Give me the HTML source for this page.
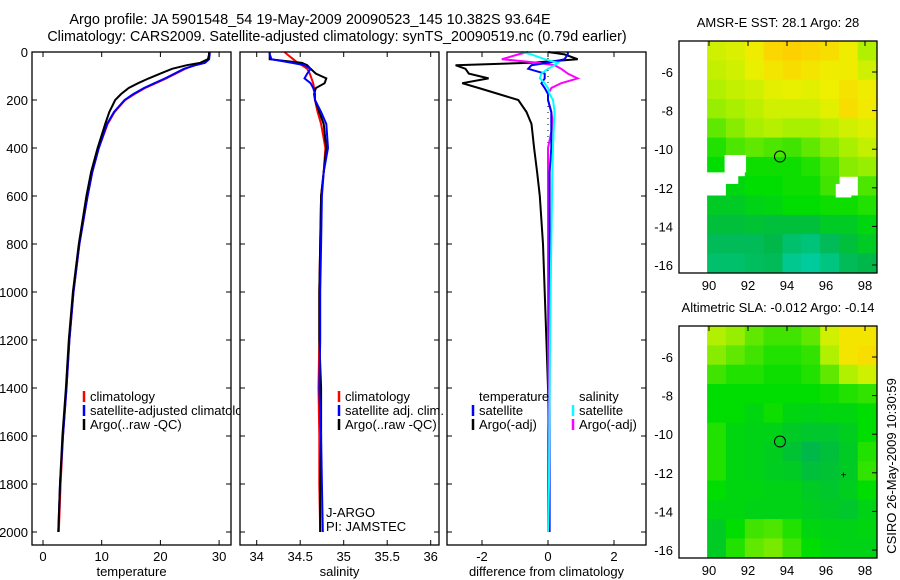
<!DOCTYPE html>
<html><head><meta charset="utf-8"><style>
body{margin:0;background:#fff}
svg{display:block;font-family:"Liberation Sans",sans-serif}
text{fill:#000}
</style></head><body>
<svg id="c" width="900" height="580" viewBox="0 0 900 580">
<text x="310" y="24" text-anchor="middle" font-size="14.5">Argo profile: JA 5901548_54 19-May-2009 20090523_145 10.382S 93.64E</text>
<text x="337" y="41" text-anchor="middle" font-size="14.3">Climatology: CARS2009. Satellite-adjusted climatology: synTS_20090519.nc (0.79d earlier)</text>
</svg>
<script>
// ---- data ----
const depthLevels=[0,10,30,45,55,70,90,110,130,150,175,200,250,300,400,500,600,800,1000,1200,1400,1600,1800,2000];
const climTemp=[28.3,28.3,28.2,27.5,25.8,24.2,22.6,21.0,19.2,17.4,15.6,14.0,12.2,11.0,9.5,8.4,7.6,6.2,5.2,4.5,4.0,3.4,3.0,2.7];
const satTemp=[28.4,28.4,28.3,27.6,26.0,24.0,22.4,20.8,19.0,17.2,15.4,13.9,12.1,10.9,9.5,8.4,7.6,6.2,5.2,4.5,4.0,3.4,2.9,2.6];
const argoTemp=[28.3,28.3,28.1,26.8,24.5,22.0,20.0,18.0,16.2,14.6,13.3,12.3,11.3,10.6,9.3,8.2,7.4,6.1,5.1,4.4,3.9,3.3,2.9,2.6];
const climSal=[34.32,34.35,34.42,34.47,34.52,34.58,34.61,34.63,34.65,34.66,34.67,34.67,34.70,34.74,34.79,34.77,34.74,34.73,34.72,34.72,34.71,34.72,34.72,34.73];
const satSal=[34.15,34.15,34.17,34.40,34.55,34.62,34.58,34.55,34.62,34.65,34.67,34.67,34.74,34.80,34.82,34.77,34.75,34.74,34.73,34.73,34.72,34.74,34.75,34.76];
const argoSal=[34.15,34.15,34.15,34.52,34.58,34.62,34.68,34.80,34.78,34.68,34.66,34.67,34.72,34.77,34.80,34.77,34.74,34.73,34.72,34.72,34.74,34.74,34.73,34.73];
const diffTempSat=[0.6,0.6,0.5,0.0,-0.5,-0.6,-0.1,-0.1,-0.2,-0.1,0.0,0.0,0.1,0.1,0.1,0.05,0.05,0.05,0.05,0.05,0.05,0.05,0.05,0.05];
const diffTempArgo=[0.0,0.5,0.9,-0.5,-2.8,-2.5,-2.4,-1.8,-2.6,-2.1,-1.5,-0.9,-0.65,-0.5,-0.42,-0.33,-0.25,-0.15,-0.1,-0.05,0.0,0.02,0.02,0.0];
const diffSalSat=[-0.8,-0.5,-0.1,0.3,0.2,0.0,-0.2,-0.25,-0.1,0.0,0.05,0.15,0.2,0.18,0.15,0.13,0.12,0.1,0.08,0.06,0.05,0.04,0.03,0.0];
const diffSalArgo=[-0.6,-0.9,-1.4,-0.3,0.2,0.4,0.6,0.9,0.4,0.1,0.0,0.0,0.1,0.15,0.0,0.0,0.0,0.0,0.0,0.0,0.02,0.0,0.0,0.0];
const sstGrid=[
[0.80,0.82,0.86,0.92,0.94,0.92,0.90,0.86,0.75],
[0.78,0.80,0.84,0.88,0.90,0.88,0.86,0.86,0.80],
[0.75,0.78,0.80,0.83,0.84,0.83,0.85,0.89,0.86],
[0.72,0.74,0.77,0.80,0.80,0.80,0.83,0.90,0.87],
[0.65,0.70,0.74,0.76,0.74,0.74,0.77,0.80,0.82],
[0.55,0.62,0.65,0.62,0.60,0.65,0.70,0.74,0.78],
[0.50,null,0.52,0.52,0.52,0.55,0.62,0.70,0.72],
[null,0.48,0.50,0.50,0.52,0.52,0.60,null,0.62],
[0.45,0.45,0.47,0.48,0.50,0.50,0.52,0.52,0.55],
[0.42,0.42,0.43,0.42,0.42,0.42,0.45,0.45,0.48],
[0.38,0.38,0.38,0.40,0.35,0.33,0.38,0.42,0.45],
[0.35,0.35,0.37,0.38,0.30,0.28,0.32,0.38,0.40]];
const slaGrid=[
[0.75,0.72,0.65,0.60,0.60,0.65,0.80,0.88,0.88],
[0.70,0.65,0.60,0.55,0.55,0.58,0.75,0.88,0.90],
[0.60,0.55,0.55,0.52,0.52,0.55,0.65,0.75,0.80],
[0.50,0.50,0.50,0.50,0.50,0.50,0.52,0.55,0.58],
[0.50,0.50,0.48,0.52,0.48,0.47,0.48,0.48,0.50],
[0.55,0.48,0.47,0.47,0.45,0.44,0.44,0.46,0.50],
[0.55,0.48,0.47,0.46,0.43,0.40,0.42,0.45,0.55],
[0.55,0.48,0.47,0.46,0.45,0.42,0.43,0.45,0.58],
[0.50,0.48,0.48,0.47,0.47,0.45,0.44,0.46,0.50],
[0.48,0.48,0.47,0.47,0.47,0.46,0.45,0.44,0.47],
[0.45,0.50,0.60,0.62,0.55,0.48,0.47,0.47,0.48],
[0.45,0.55,0.65,0.68,0.60,0.50,0.48,0.47,0.47]];
const depthTicks=[0,200,400,600,800,1000,1200,1400,1600,1800,2000];
const tempTicks=[0,10,20,30];
const salTicks=[34,34.5,35,35.5,36];
const diffTicks=[-2,0,2];
const latTicks=[-6,-8,-10,-12,-14,-16];
const lonTicks=[90,92,94,96,98];
const argoLon=93.64, argoLat=-10.38;

// ---- helpers ----
const NS='http://www.w3.org/2000/svg';
const svg=document.getElementById('c');
function mk(tag,attrs,parent){const e=document.createElementNS(NS,tag);for(const k in attrs)e.setAttribute(k,attrs[k]);(parent||svg).appendChild(e);return e;}
const yD=d=>52+d*0.24;
const panels=[
 {x0:32,x1:231,sx:v=>43+v*5.87,ticks:tempTicks,label:'temperature',name:'temperature-panel'},
 {x0:240,x1:439,sx:v=>256.7+(v-34)*87,ticks:salTicks,label:'salinity',name:'salinity-panel'},
 {x0:447,x1:646,sx:v=>548+v*33,ticks:diffTicks,label:'difference from climatology',name:'difference-panel'}];
function line(xs,scale,color,name,w){
 const pts=xs.map((v,i)=>scale(v).toFixed(1)+','+yD(depthLevels[i]).toFixed(1)).join(' ');
 const p=mk('polyline',{points:pts,fill:'none',stroke:color,'stroke-width':w||2});
 
 
}
function txt(x,y,s,attrs,name){const t=mk('text',Object.assign({x:x,y:y,'font-size':13},attrs||{}));t.textContent=s;
 
 return t;}
function frame(p){
 const r=mk('rect',{x:p.x0,y:52,width:p.x1-p.x0,height:493,fill:'#fff',stroke:'none'});
 
 
}
function axes(p,i){
 mk('rect',{x:p.x0,y:52,width:p.x1-p.x0,height:493,fill:'none',stroke:'#000','stroke-width':1.3});
 depthTicks.forEach(d=>{const y=yD(d);
  mk('line',{x1:p.x0,x2:p.x0+5,y1:y,y2:y,stroke:'#000'});mk('line',{x1:p.x1-5,x2:p.x1,y1:y,y2:y,stroke:'#000'});
  if(i===0)txt(28,y+5,String(d),{'text-anchor':'end'},'y-tick-label');});
 p.ticks.forEach(v=>{const x=p.sx(v);
  mk('line',{x1:x,x2:x,y1:545,y2:540,stroke:'#000'});mk('line',{x1:x,x2:x,y1:52,y2:57,stroke:'#000'});
  txt(x,561,String(v),{'text-anchor':'middle'},'x-tick-label');});
 txt((p.x0+p.x1)/2,576,p.label,{'text-anchor':'middle'},'x-axis-title');
}
function legend(x,y,entries){entries.forEach((e,k)=>{
 if(e[1]){const m=mk('line',{x1:x,x2:x,y1:y+k*14-10,y2:y+k*14+1,stroke:e[1],'stroke-width':2.5});
 }
 txt(x+6,y+k*14,e[0],{},'legend-entry');});}

// panel 1
frame(panels[0]);
line(climTemp,panels[0].sx,'#f00','climatology-temp-line');
line(satTemp,panels[0].sx,'#00f','satellite-temp-line');
line(argoTemp,panels[0].sx,'#000','argo-temp-line');
legend(84,401,[['climatology','#f00'],['satellite-adjusted climatology','#00f'],['Argo(..raw -QC)','#000']]);
axes(panels[0],0);
// panel 2
frame(panels[1]);
line(climSal,panels[1].sx,'#f00','climatology-sal-line');
line(argoSal,panels[1].sx,'#000','argo-sal-line');
line(satSal,panels[1].sx,'#00f','satellite-sal-line');
legend(339,401,[['climatology','#f00'],['satellite adj. clim.','#00f'],['Argo(..raw -QC)','#000']]);
txt(326,517,'J-ARGO',{},'float-program');
txt(326,531,'PI: JAMSTEC',{},'float-pi');
axes(panels[1],1);
// panel 3
frame(panels[2]);
mk('line',{x1:548,x2:548,y1:52,y2:532,stroke:'#000','stroke-dasharray':'1,5'});
line(diffTempArgo,panels[2].sx,'#000','argo-temp-diff-line');
line(diffSalArgo,panels[2].sx,'#f0f','argo-sal-diff-line');
line(diffTempSat,panels[2].sx,'#00f','satellite-temp-diff-line');
line(diffSalSat,panels[2].sx,'#0ff','satellite-sal-diff-line');
legend(473,401,[['temperature',null],['satellite','#00f'],['Argo(-adj)','#000']]);
legend(573,401,[['salinity',null],['satellite','#0ff'],['Argo(-adj)','#f0f']]);
axes(panels[2],2);

// ---- maps ----
const stops=[[0.25,[0,208,176]],[0.4,[0,184,74]],[0.5,[0,221,0]],[0.65,[96,232,0]],[0.75,[176,240,0]],[0.85,[238,240,0]],[0.95,[255,204,0]]];
function cmap(v){if(v<=stops[0][0])return 'rgb('+stops[0][1]+')';
 for(let i=1;i<stops.length;i++){if(v<=stops[i][0]){const a=stops[i-1],b=stops[i],t=(v-a[0])/(b[0]-a[0]);
  return 'rgb('+a[1].map((c,j)=>Math.round(c+(b[1][j]-c)*t)).join(',')+')';}}
 return 'rgb('+stops[stops.length-1][1]+')';}
const sxL=lon=>709+(lon-90)*19.5;
function map(grid,top,title,name){
 const syL=lat=>top+31+(-6-lat)*19.3;
 const g=mk('g',{});
 const lon0=89.9,dl=(98.6-89.9)/9;
 grid.forEach((row,r)=>row.forEach((v,c)=>{if(v===null)return;
  const x=sxL(lon0+c*dl),x2=sxL(lon0+(c+1)*dl),y=syL(-4.4-r),y2=syL(-5.4-r);
  const cell=mk('rect',{x:x.toFixed(1),y:y.toFixed(1),width:(x2-x+0.6).toFixed(1),height:(y2-y+0.6).toFixed(1),fill:cmap(v)},g);
  }));
 mk('rect',{x:679,y:top,width:198,height:232,fill:'none',stroke:'#000','stroke-width':1.3});
 latTicks.forEach(l=>{const y=syL(l);mk('line',{x1:872,x2:877,y1:y,y2:y,stroke:'#000'});
  txt(673,y+5,String(l),{'text-anchor':'end'},'lat-tick-label');});
 lonTicks.forEach(l=>{const x=sxL(l);mk('line',{x1:x,x2:x,y1:top,y2:top+5,stroke:'#000'});
  txt(x,top+249,String(l),{'text-anchor':'middle'},'lon-tick-label');});
 txt(778,top-14,title,{'text-anchor':'middle'},'map-title');
 const c=mk('circle',{cx:sxL(argoLon),cy:syL(argoLat),r:5.5,fill:'none',stroke:'#000'});
 
 txt(sxL(96.9),syL(-12.1)+4,'+',{'text-anchor':'middle','font-size':10},'previous-position');
 return syL;}
const s1=map(sstGrid,41,'AMSR-E SST: 28.1 Argo: 28','sst-map');
// white gaps in sst
mk('rect',{x:sxL(90.8),y:s1(-10.3),width:sxL(91.9)-sxL(90.8),height:s1(-11.2)-s1(-10.3),fill:'#fff'});
mk('rect',{x:sxL(89.9),y:s1(-11.2),width:sxL(91.5)-sxL(89.9),height:s1(-11.8)-s1(-11.2),fill:'#fff'});
mk('rect',{x:sxL(96.5),y:s1(-11.8),width:sxL(97.3)-sxL(96.5),height:s1(-12.5)-s1(-11.8),fill:'#fff'});
map(slaGrid,326,'Altimetric SLA: -0.012 Argo: -0.14','sla-map');
txt(0,0,'CSIRO 26-May-2009 10:30:59',{'text-anchor':'middle',transform:'translate(896,466) rotate(-90)'},'timestamp');
</script>
</body></html>
